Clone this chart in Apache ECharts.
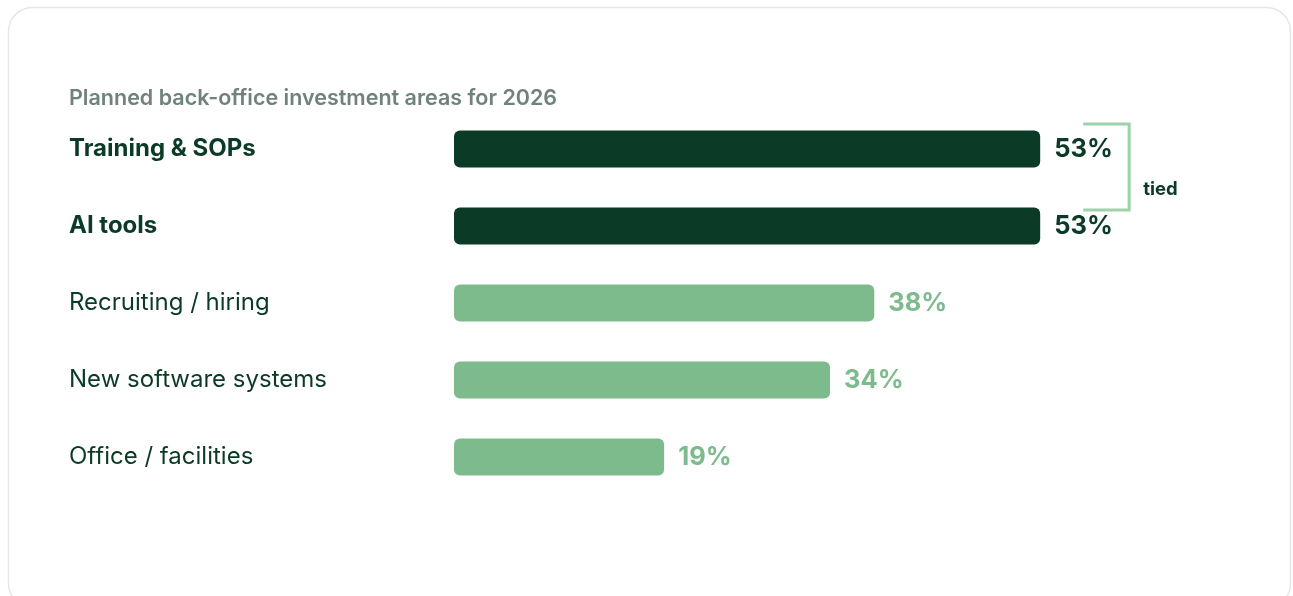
<!DOCTYPE html>
<html>
<head>
<meta charset="utf-8">
<script src="https://cdn.jsdelivr.net/npm/echarts@6/dist/echarts.min.js"></script>
<style>
html,body{margin:0;padding:0;background:#fff;}
#c{width:1293px;height:596px;}
</style>
</head>
<body>
<div id="c"></div>
<script>
const title = 'Planned back-office investment areas for 2026';
const categories = ['Training & SOPs', 'AI tools', 'Recruiting / hiring', 'New software systems', 'Office / facilities'];
const values = [53, 53, 38, 34, 19];
const highlighted = [true, true, false, false, false];
const bracketText = 'tied';

const DARK = '#0b3a26';
const LIGHT = '#7dbb8d';
const FONT = 'Inter, "Noto Sans", sans-serif';

const chart = echarts.init(document.getElementById('c'), null, {renderer: 'canvas'});

const option = {
  animation: false,
  backgroundColor: '#ffffff',
  textStyle: {fontFamily: FONT},
  title: {
    text: title,
    left: 69, top: 87, padding: 0,
    textStyle: {fontFamily: FONT, fontSize: 21.5, fontWeight: 600, color: '#6f8378', lineHeight: 24}
  },
  grid: {left: 454, top: 110.5, width: 663.6, height: 385, containLabel: false},
  xAxis: {
    type: 'value', min: 0, max: 60,
    show: false
  },
  yAxis: {
    type: 'category', inverse: true, data: categories,
    axisLine: {show: false}, axisTick: {show: false}, splitLine: {show: false},
    axisLabel: {
      align: 'left', margin: 385,
      formatter: (v, i) => highlighted[i] ? '{b|' + v + '}' : '{n|' + v + '}',
      rich: {
        b: {fontFamily: FONT, fontSize: 24, fontWeight: 700, color: DARK},
        n: {fontFamily: FONT, fontSize: 24, fontWeight: 400, color: DARK}
      }
    }
  },
  series: [{
    type: 'bar',
    barWidth: 37,
    data: values.map((v, i) => ({
      value: v,
      itemStyle: {color: highlighted[i] ? DARK : LIGHT, borderRadius: 6},
      label: {color: highlighted[i] ? DARK : LIGHT}
    })),
    label: {
      show: true, position: 'right', distance: 14,
      formatter: p => p.value + '%',
      fontFamily: FONT, fontSize: 25.5, fontWeight: 700
    }
  }]
};
chart.setOption(option);

// card border and bracket annotation computed from chart scales
const yTop = chart.convertToPixel({yAxisIndex: 0}, categories[0]);
const yBot = chart.convertToPixel({yAxisIndex: 0}, categories[1]);
const xEnd = chart.convertToPixel({xAxisIndex: 0}, Math.max(values[0], values[1]));
const bx0 = xEnd + 43, bx1 = xEnd + 89;
const by0 = yTop - 25, by1 = yBot - 16;
chart.setOption({
  graphic: [
    {type: 'rect', z: -10, silent: true,
     shape: {x: 8.5, y: 7.5, width: 1282, height: 600, r: 24},
     style: {fill: '#ffffff', stroke: '#e2e8e5', lineWidth: 1.5}},
    {type: 'polyline', silent: true,
     shape: {points: [[bx0, by0], [bx1, by0], [bx1, by1], [bx0, by1]]},
     style: {fill: null, stroke: '#9dd2aa', lineWidth: 3}},
    {type: 'text', silent: true,
     x: bx1 + 14, y: (by0 + by1) / 2 + 22,
     style: {text: bracketText, fontFamily: FONT, fontSize: 18.5, fontWeight: 700, fill: DARK, verticalAlign: 'middle'}}
  ]
});
</script>
</body>
</html>
